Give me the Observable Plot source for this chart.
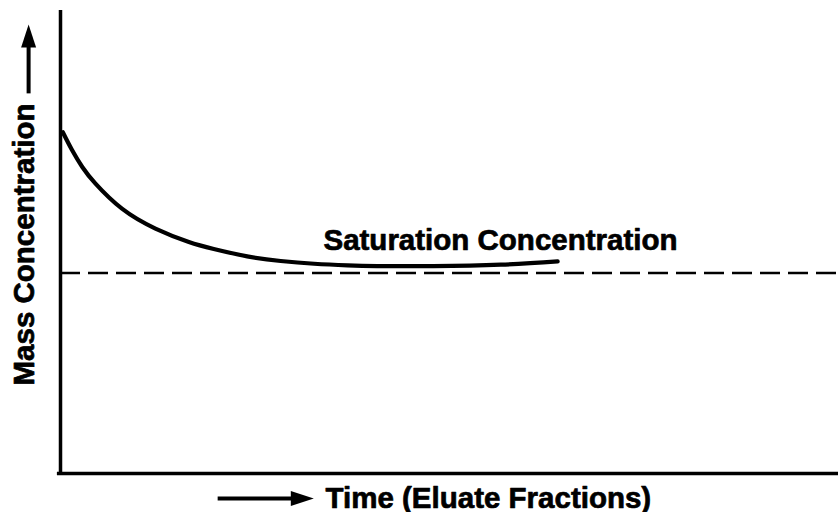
<!DOCTYPE html>
<html>
<head>
<meta charset="utf-8">
<script src="https://cdn.jsdelivr.net/npm/d3@7"></script>
<script src="https://cdn.jsdelivr.net/npm/@observablehq/plot@0.6"></script>
<style>
  html, body { margin: 0; padding: 0; background: #fff; }
  #chart { width: 838px; height: 512px; }
</style>
</head>
<body>
<div id="chart"></div>
<script>
// Elution curve (time in arbitrary units 0–100, concentration 0–100)
const curveTime = [0.3, 1.5, 2.8, 4.5, 7.9, 12.2, 16.5, 19.7, 24.0, 28.3, 32.6, 36.9, 40.7, 47.9, 56.6, 63.9];
const curveConc = [73.7, 69.8, 66.2, 62.6, 57.2, 52.9, 50.0, 48.5, 46.9, 45.9, 45.3, 44.95, 44.8, 44.8, 45.1, 45.8];
const saturationConc = [43.3];
const annotationText = ["Saturation Concentration"];
const xLabel = ["Time (Eluate Fractions)"];
const yLabel = ["Mass Concentration"];

const curve = curveTime.map((t, i) => ({t, c: curveConc[i]}));

const FONT = "'Liberation Sans', Arial, Helvetica, sans-serif";
const FS = 29.5;
const textStyle = {fontSize: FS, fontWeight: "bold", fill: "#000", stroke: "#000", strokeWidth: 0.7};

// elongated filled arrowhead, tip pointing "up" in symbol space
const arrowHead = {
  draw(ctx) {
    ctx.moveTo(0, -23);
    ctx.lineTo(7.5, 0);
    ctx.lineTo(-7.5, 0);
    ctx.closePath();
  }
};

const chart = Plot.plot({
  width: 838,
  height: 512,
  marginLeft: 60,
  marginRight: 0,
  marginTop: 10,
  marginBottom: 39,
  x: {domain: [0, 100], axis: null},
  y: {domain: [0, 100], axis: null},
  style: {fontFamily: FONT, background: "#fff", color: "#000"},
  marks: [
    // saturation level
    Plot.ruleY(saturationConc, {stroke: "#000", strokeWidth: 2.5, strokeDasharray: "20,8"}),
    // concentration curve
    Plot.line(curve, {x: "t", y: "c", curve: "natural", stroke: "#000", strokeWidth: 4.2, strokeLinecap: "round"}),
    // axes
    Plot.ruleX([0], {stroke: "#000", strokeWidth: 3.5}),
    Plot.ruleY([0], {stroke: "#000", strokeWidth: 3.5, x1: -0.4, x2: 100}),
    // annotation
    Plot.text(annotationText, {
      x: 33.8, y: 48.2, text: d => d, textAnchor: "start", lineAnchor: "bottom", ...textStyle
    }),
    // x label + arrow
    Plot.text(xLabel, {
      frameAnchor: "bottom-left", dx: 265, dy: 34, text: d => d,
      textAnchor: "start", lineAnchor: "bottom", ...textStyle
    }),
    Plot.link([0], {x1: 20.2, x2: 29.9, y1: -5.4, y2: -5.4, stroke: "#000", strokeWidth: 4, clip: false}),
    Plot.dot([0], {x: 29.6, y: -5.4, symbol: arrowHead, rotate: 90, fill: "#000", stroke: "none", clip: false}),
    // y label + arrow
    Plot.text(yLabel, {
      frameAnchor: "left", dx: -27, dy: 143.5, rotate: -90, text: d => d,
      textAnchor: "start", lineAnchor: "bottom", ...textStyle
    }),
    Plot.link([0], {x1: -4.1, x2: -4.1, y1: 82.1, y2: 92.2, stroke: "#000", strokeWidth: 4, clip: false}),
    Plot.dot([0], {x: -4.1, y: 92.0, symbol: arrowHead, fill: "#000", stroke: "none", clip: false})
  ]
});

document.getElementById("chart").appendChild(chart);
</script>
</body>
</html>
